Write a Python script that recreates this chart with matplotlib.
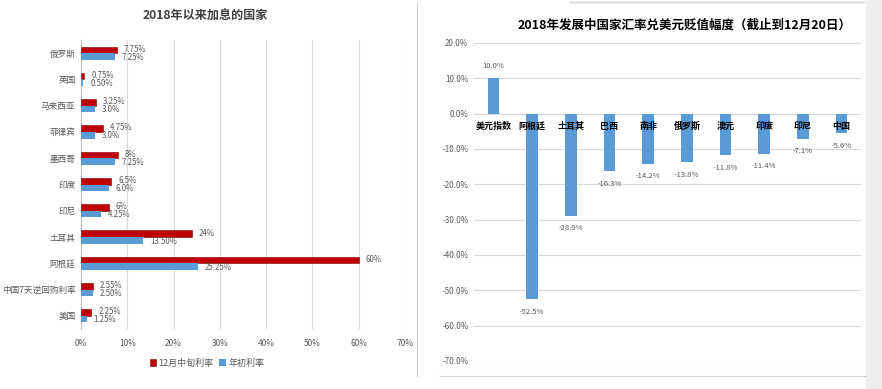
import matplotlib.pyplot as plt
from matplotlib.patches import Rectangle, Patch
from matplotlib.lines import Line2D

plt.rcParams['font.family'] = ['Noto Sans CJK SC', 'DejaVu Sans']

# left chart: rate hikes since 2018
hike_countries = ['俄罗斯', '英国', '马来西亚', '菲律宾', '墨西哥', '印度', '印尼',
                  '土耳其', '阿根廷', '中国7天逆回购利率', '美国']
rate_dec = [7.75, 0.75, 3.25, 4.75, 8, 6.5, 6, 24, 60, 2.55, 2.25]
rate_jan = [7.25, 0.50, 3.0, 3.0, 7.25, 6.0, 4.25, 13.50, 25.25, 2.50, 1.25]
labels_dec = ['7.75%', '0.75%', '3.25%', '4.75%', '8%', '6.5%', '6%', '24%', '60%', '2.55%', '2.25%']
labels_jan = ['7.25%', '0.50%', '3.0%', '3.0%', '7.25%', '6.0%', '4.25%', '13.50%', '25.25%', '2.50%', '1.25%']
x_ticks = [0, 10, 20, 30, 40, 50, 60, 70]

# right chart: depreciation vs USD
fx_names = ['美元指数', '阿根廷', '土耳其', '巴西', '南非', '俄罗斯', '澳元', '印度', '印尼', '中国']
fx_change = [10.0, -52.5, -28.9, -16.3, -14.2, -13.8, -11.8, -11.4, -7.1, -5.6]
y_ticks = [20, 10, 0, -10, -20, -30, -40, -50, -60, -70]

W, H = 882, 389
fig = plt.figure(figsize=(W / 100, H / 100), dpi=100)
fig.patch.set_facecolor('white')

RED = '#C00000'
BLUE = '#5B9BD5'
GRID = '#D9D9D9'
TXT = '#595959'

# ---- left chart ----
ax1 = fig.add_axes([81 / W, 1 - 329 / H, (405 - 81) / W, (329 - 40) / H])
n = len(hike_countries)
pos = list(range(n))[::-1]
h = 0.25
ax1.barh([p + h / 2 for p in pos], rate_dec, height=h, color=RED, edgecolor='#7A0000',
         linewidth=0.4, label='12月中旬利率', zorder=3)
ax1.barh([p - h / 2 for p in pos], rate_jan, height=h, color=BLUE, label='年初利率', zorder=3)
for p, v, s in zip(pos, rate_dec, labels_dec):
    ax1.annotate(s, (v, p + h / 2), xytext=(5, 0.5), textcoords='offset points',
                 fontsize=5.7, color=TXT, va='center', ha='left')
for p, v, s in zip(pos, rate_jan, labels_jan):
    ax1.annotate(s, (v, p - h / 2), xytext=(5, -0.5), textcoords='offset points',
                 fontsize=5.7, color=TXT, va='center', ha='left')
ax1.set_xlim(0, 70)
ax1.set_ylim(-0.5, n - 0.5)
ax1.set_xticks(x_ticks)
ax1.set_xticklabels([f'{t}%' for t in x_ticks], fontsize=6, color=TXT)
ax1.set_yticks(pos)
ax1.set_yticklabels(hike_countries, fontsize=6.2, color=TXT)
ax1.tick_params(length=0, pad=4)
ax1.tick_params(axis='x', pad=7)
ax1.grid(axis='x', color=GRID, linewidth=0.8, zorder=0)
for s in ['top', 'right', 'bottom']:
    ax1.spines[s].set_visible(False)
ax1.spines['left'].set_color('#BFBFBF')
ax1.spines['left'].set_linewidth(0.8)

fig.text(205 / W, 1 - 16 / H, '2018年以来加息的国家', fontsize=8.7, fontweight='bold',
         color='#404040', ha='center', va='center')
handles = [Patch(facecolor=RED, edgecolor='#7A0000', linewidth=0.4), Patch(facecolor=BLUE)]
fig.legend(handles, ['12月中旬利率', '年初利率'], loc='center', ncol=2,
           bbox_to_anchor=(207 / W, 1 - 363 / H), frameon=False, fontsize=6.5,
           handlelength=0.7, handleheight=0.7, handletextpad=0.3, columnspacing=0.6,
           labelcolor=TXT)

# divider
fig.add_artist(Line2D([417 / W, 417 / W], [1 - 3 / H, 1 - 376 / H], color='#D0D0D0', lw=0.8))

# ---- right chart ----
fig.add_artist(Rectangle((866 / W, 0), 16 / W, 1, facecolor='#EEEEEE', edgecolor='none'))
fig.add_artist(Line2D([440 / W, 866 / W], [1 - 376 / H, 1 - 376 / H], color='#D6D6D6', lw=0.8))
fig.add_artist(Line2D([570 / W, 863 / W], [1 - 1.5 / H, 1 - 1.5 / H], color='#E2E2E2', lw=2))

ax2 = fig.add_axes([474 / W, 1 - 361 / H, (861 - 474) / W, (361 - 43) / H])
xs = list(range(len(fx_names)))
ax2.bar(xs, fx_change, width=0.3, color=BLUE, zorder=3)
for x, v, name in zip(xs, fx_change, fx_names):
    off = 9 if v > 0 else -9
    ax2.annotate(f'{v:.1f}%', (x, v), xytext=(0, off), textcoords='offset points',
                 fontsize=5.5, color=TXT, ha='center', va='center')
    ax2.annotate(name, (x, 0), xytext=(0, -9), textcoords='offset points',
                 fontsize=6.5, fontweight='bold', color='black', ha='center', va='center',
                 zorder=4)
ax2.set_xlim(-0.5, len(fx_names) - 0.5)
ax2.set_ylim(-70, 20)
ax2.set_yticks(y_ticks)
ax2.set_yticklabels([f'{t:.1f}%' for t in y_ticks], fontsize=5.8, color=TXT)
ax2.set_xticks([])
ax2.tick_params(length=0, pad=4)
ax2.grid(axis='y', color=GRID, linewidth=0.8, zorder=0)
for s in ax2.spines.values():
    s.set_visible(False)

fig.text(685 / W, 1 - 25 / H, '2018年发展中国家汇率兑美元贬值幅度（截止到12月20日）',
         fontsize=9, fontweight='bold', color='black', ha='center', va='center')

fig.savefig('out.png', dpi=100)
